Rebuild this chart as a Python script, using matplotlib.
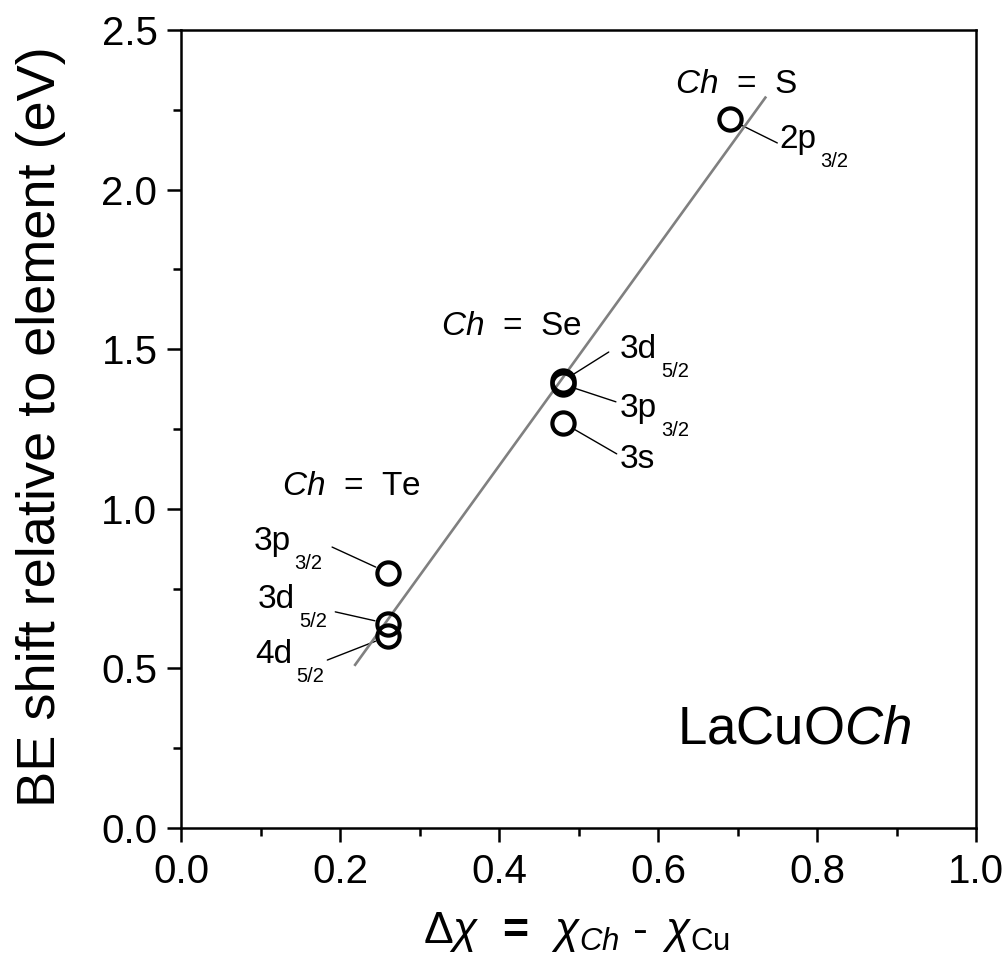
import numpy as np
import matplotlib
matplotlib.use("Agg")
import matplotlib.pyplot as plt
from matplotlib.ticker import MultipleLocator

plt.rcParams['font.family'] = ['Liberation Sans', 'DejaVu Sans']
plt.rcParams['mathtext.fontset'] = 'custom'
plt.rcParams['mathtext.rm'] = 'Liberation Sans'
plt.rcParams['mathtext.it'] = 'Liberation Sans:italic'
plt.rcParams['mathtext.bf'] = 'Liberation Sans:bold'

# Electronegativity difference and core-level BE shifts
chalcogens = ["Te", "Se", "S"]
delta_chi = {"Te": 0.26, "Se": 0.48, "S": 0.69}
levels = {
    "Te": [("3p", "3/2", 0.80), ("3d", "5/2", 0.64), ("4d", "5/2", 0.60)],
    "Se": [("3d", "5/2", 1.40), ("3p", "3/2", 1.39), ("3s", "", 1.27)],
    "S": [("2p", "3/2", 2.22)],
}

# label layout: (text x, text baseline y, leader end x, leader end y) in data units
label_pos = {
    ("Te", 0): (0.091, 0.871, 0.190, 0.880),
    ("Te", 1): (0.097, 0.689, 0.194, 0.677),
    ("Te", 2): (0.093, 0.517, 0.184, 0.526),
    ("Se", 0): (0.552, 1.472, 0.538, 1.491),
    ("Se", 1): (0.552, 1.288, 0.547, 1.335),
    ("Se", 2): (0.552, 1.128, 0.548, 1.172),
    ("S", 0): (0.752, 2.130, 0.750, 2.146),
}
ch_label_pos = {"Te": (0.214, 1.043), "Se": (0.415, 1.545), "S": (0.698, 2.303)}
fit_range = (0.219, 0.735)

xs = np.array([delta_chi[c] for c in chalcogens for _ in levels[c]])
ys = np.array([lv[2] for c in chalcogens for lv in levels[c]])

fig = plt.figure(figsize=(10.08, 9.66), dpi=100)
ax = fig.add_axes([0.1796, 0.1429, 0.7887, 0.8261])

# linear fit through all points
slope, intercept = np.polyfit(xs, ys, 1)
xf = np.array(fit_range)
ax.plot(xf, slope * xf + intercept, color='#808080', lw=1.9, zorder=2)

ax.plot(xs, ys, 'o', ms=16, mfc='none', mec='black', mew=3.0, zorder=3)

for c in chalcogens:
    for i, (main, sub, val) in enumerate(levels[c]):
        tx, ty, lx, ly = label_pos[(c, i)]
        ax.annotate('', xy=(delta_chi[c], val), xytext=(lx, ly),
                    arrowprops=dict(arrowstyle='-', lw=1.0, color='black',
                                    shrinkA=0, shrinkB=9.5), zorder=1)
        t = ax.text(tx, ty, main, fontsize=24, ha='left', va='baseline')
        if sub:
            ax.annotate(sub, xy=(1, 0), xycoords=t, xytext=(3, 2),
                        textcoords='offset points', fontsize=14.5,
                        ha='left', va='top')
    cx, cy = ch_label_pos[c]
    ax.text(cx, cy, r'$\mathit{Ch}$  =  ' + c, fontsize=24,
            ha='center', va='baseline')

ax.text(0.624, 0.266, r'LaCuO$\mathit{Ch}$', fontsize=38,
        ha='left', va='baseline')

ax.set_xlim(0, 1)
ax.set_ylim(0, 2.5)
ax.xaxis.set_major_locator(MultipleLocator(0.2))
ax.xaxis.set_minor_locator(MultipleLocator(0.1))
ax.yaxis.set_major_locator(MultipleLocator(0.5))
ax.yaxis.set_minor_locator(MultipleLocator(0.25))
ax.xaxis.set_major_formatter(plt.FormatStrFormatter('%.1f'))
ax.yaxis.set_major_formatter(plt.FormatStrFormatter('%.1f'))

ax.tick_params(which='both', direction='out', width=1.8, top=False, right=False,
               labelsize=29)
ax.tick_params(which='major', length=10)
ax.tick_params(which='minor', length=6)
ax.tick_params(axis='x', which='major', pad=8)
ax.tick_params(axis='y', which='major', pad=7)
for s in ax.spines.values():
    s.set_linewidth(1.8)

ax.set_ylabel('BE shift relative to element (eV)', fontsize=39)
ax.yaxis.set_label_coords(-0.145, 0.5025)
ax.set_xlabel(r'$\Delta\chi\,$ $\mathbf{=}$ $\,\chi_{Ch}$ - $\,\chi_{\rm Cu}$',
              fontsize=32)
ax.xaxis.set_label_coords(0.498, -0.103)

fig.savefig('out.png', dpi=100)
